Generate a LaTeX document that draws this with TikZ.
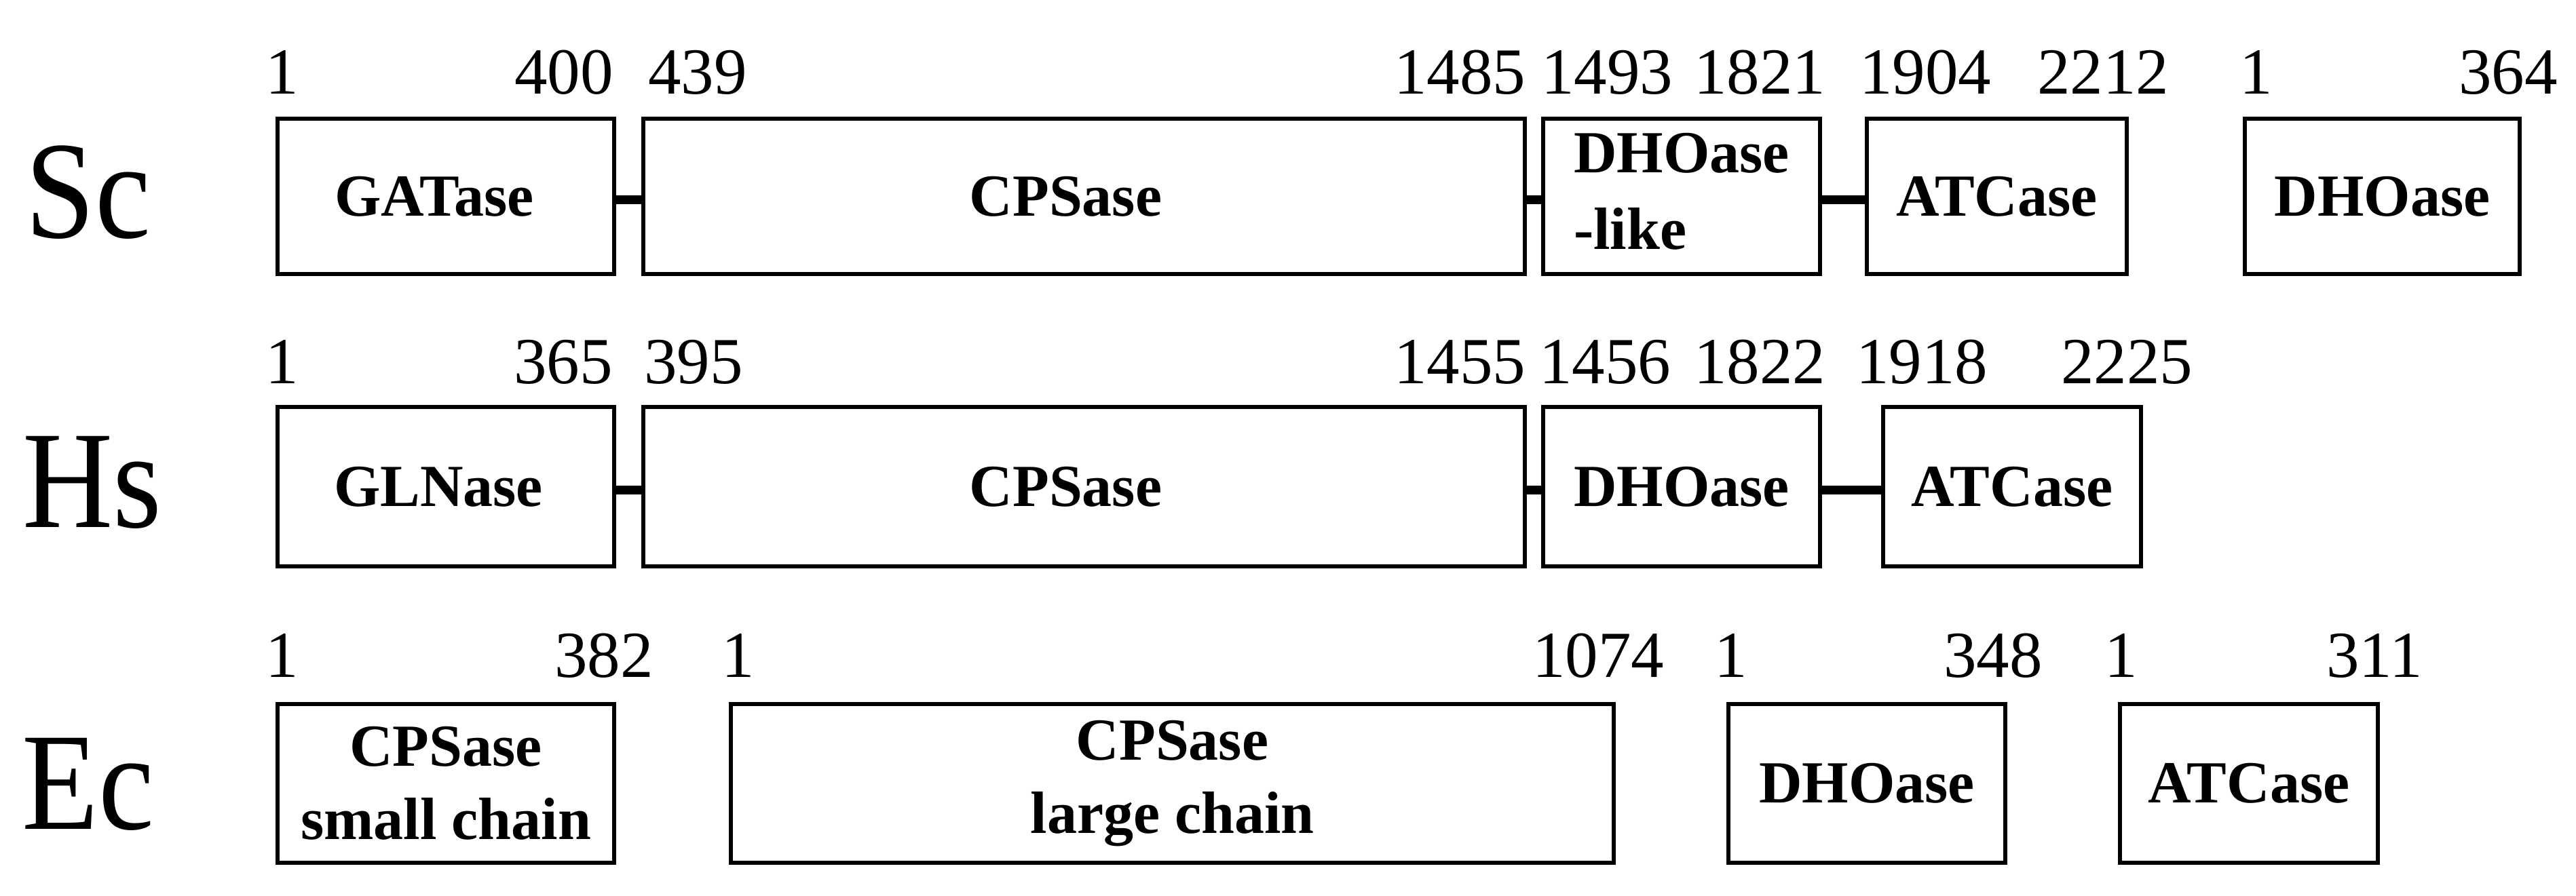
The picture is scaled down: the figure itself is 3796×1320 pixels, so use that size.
\documentclass[tikz,border=0pt]{standalone}
\usepackage{fontspec}
\setmainfont{Liberation Serif}
\newcommand\protbox[6]{%
  \node[dom, minimum width={(#4-#3-6)*0.2pt}, minimum height={(#6-#5-6)*0.2pt}]
    (#1) at ({(#3+#4)/2},{(#5+#6)/2}) {#2};}
\begin{document}
\begin{tikzpicture}[x=0.2pt,y=-0.2pt,
  dom/.style={draw=black, line width=1.2pt, fill=white, inner sep=0pt,
    align=center, font=\bfseries\fontsize{17.6}{21.5}\selectfont},
  num/.style={anchor=base, inner sep=0pt, font=\fontsize{19.4}{23}\selectfont},
  species/.style={anchor=base, inner sep=0pt, font=\fontsize{41}{45}\selectfont},
  link/.style={line width=2.6pt, black}]
\useasboundingbox (0,0) rectangle (3796,1320);

% species labels
\node[species] (sc) at (130,350) {\scalebox{0.9}[1]{Sc}};
\node[species] (hs) at (136,777) {\scalebox{0.9}[1]{Hs}};
\node[species] (ec) at (130,1222) {\scalebox{0.9}[1]{Ec}};

% Sc row
\protbox{sgat}{GATase\hspace{6.8pt}}{406}{908}{172}{407}
\protbox{scps}{CPSase\hspace{10.8pt}}{945}{2250}{172}{407}
\protbox{sdhl}{\begin{tabular}{@{}l@{}}DHOase\\[1pt]-like\end{tabular}}{2271}{2685}{172}{407}
\protbox{satc}{ATCase}{2748}{3137}{172}{407}
\protbox{sdho}{DHOase}{3305}{3716}{172}{407}
\draw[link] ([yshift=-1pt]sgat.east) -- ([yshift=-1pt]scps.west);
\draw[link] ([yshift=-1pt]scps.east) -- ([yshift=-1pt]sdhl.west);
\draw[link] ([yshift=-1pt]sdhl.east) -- ([yshift=-1pt]satc.west);

\node[num] (n1a) at (416,138) {1};
\node[num] (n1b) at (831,138) {400};
\node[num] (n1c) at (1028,138) {439};
\node[num] (n1d) at (2151,138) {1485};
\node[num] (n1e) at (2368,138) {1493};
\node[num] (n1f) at (2593,138) {1821};
\node[num] (n1g) at (2837,138) {1904};
\node[num] (n1h) at (3099,138) {2212};
\node[num] (n1i) at (3325,138) {1};
\node[num] (n1j) at (3696,138) {364};

% Hs row
\protbox{hgln}{GLNase\hspace{4.4pt}}{406}{908}{597}{838}
\protbox{hcps}{CPSase\hspace{10.8pt}}{945}{2250}{597}{838}
\protbox{hdho}{DHOase}{2271}{2685}{597}{838}
\protbox{hatc}{ATCase}{2772}{3158}{597}{838}
\draw[link] ([yshift=-1pt]hgln.east) -- ([yshift=-1pt]hcps.west);
\draw[link] ([yshift=-1pt]hcps.east) -- ([yshift=-1pt]hdho.west);
\draw[link] ([yshift=-1pt]hdho.east) -- ([yshift=-1pt]hatc.west);

\node[num] (n2a) at (416,565) {1};
\node[num] (n2b) at (830,565) {365};
\node[num] (n2c) at (1022,565) {395};
\node[num] (n2d) at (2151,565) {1455};
\node[num] (n2e) at (2365,565) {1456};
\node[num] (n2f) at (2593,565) {1822};
\node[num] (n2g) at (2832,565) {1918};
\node[num] (n2h) at (3134,565) {2225};

% Ec row
\protbox{esmall}{CPSase\\small chain}{406}{908}{1035}{1275}
\protbox{elarge}{CPSase\\large chain}{1074}{2381}{1035}{1275}
\protbox{edho}{DHOase}{2544}{2958}{1035}{1275}
\protbox{eatc}{ATCase}{3121}{3507}{1035}{1275}

\node[num] (n3a) at (416,998) {1};
\node[num] (n3b) at (890,998) {382};
\node[num] (n3c) at (1088,998) {1};
\node[num] (n3d) at (2355,998) {1074};
\node[num] (n3e) at (2551,998) {1};
\node[num] (n3f) at (2937,998) {348};
\node[num] (n3g) at (3126,998) {1};
\node[num] (n3h) at (3499,998) {311};
\end{tikzpicture}
\end{document}
